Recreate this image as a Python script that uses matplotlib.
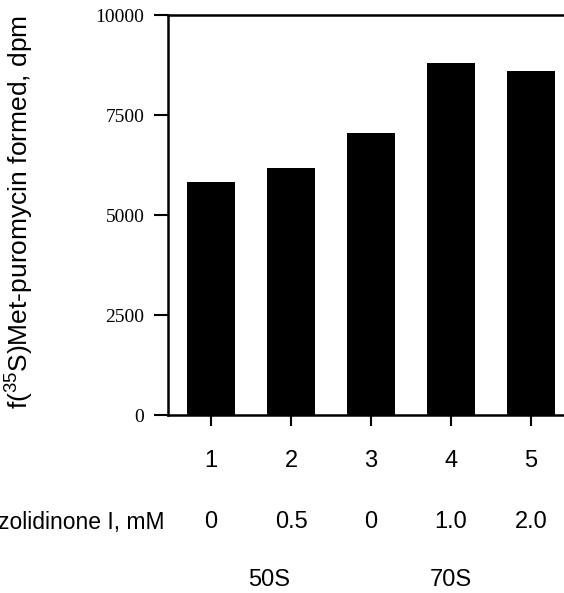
import matplotlib.pyplot as plt

# data
lanes = [1, 2, 3, 4, 5]
dpm = [5825, 6175, 7050, 8800, 8600]
conc_labels = ["0", "0.5", "0", "1.0", "2.0"]
subunits = ["50S", "70S"]
subunit_pos = [1.72, 4.0]

plt.rcParams["font.family"] = ["Liberation Sans", "DejaVu Sans"]
plt.rcParams["mathtext.fontset"] = "custom"
plt.rcParams["mathtext.rm"] = "Liberation Sans"

fig = plt.figure(figsize=(5.64, 5.93), dpi=100)
ax = fig.add_axes([0.298, 0.300, 0.7287, 0.6745])

ax.bar(lanes, dpm, width=0.59, color="black")

ax.set_xlim(0.4625, 5.6)
ax.set_ylim(0, 10000)
ax.set_yticks([0, 2500, 5000, 7500, 10000])
ax.set_yticklabels(["0", "2500", "5000", "7500", "10000"],
                   family="Liberation Serif", fontsize=14)
ax.set_xticks(lanes)
ax.set_xticklabels([str(l) for l in lanes], fontsize=17)

ax.tick_params(axis="y", direction="out", length=10, width=1.5, pad=7)
ax.tick_params(axis="x", direction="out", length=8, width=1.5, pad=17)
for s in ["left", "bottom", "top"]:
    ax.spines[s].set_linewidth(1.8)
ax.spines["right"].set_visible(False)

# extra label rows under the axis
tr = ax.get_xaxis_transform()
for x, lab in zip(lanes, conc_labels):
    ax.text(x, -0.2675, lab, transform=tr, ha="center", va="center", fontsize=17)
ax.text(0.4625 - 0.04, -0.2675, "Oxazolidinone I, mM", transform=tr,
        ha="right", va="center", fontsize=16.5)
for x, lab in zip(subunit_pos, subunits):
    ax.text(x, -0.4125, lab, transform=tr, ha="center", va="center", fontsize=17)

fig.text(20 / 564, (593 - 212) / 593, r"f($\mathregular{^{35}}$S)Met-puromycin formed, dpm",
         rotation=90, ha="center", va="center", fontsize=19)

fig.savefig("out.png", dpi=100)
